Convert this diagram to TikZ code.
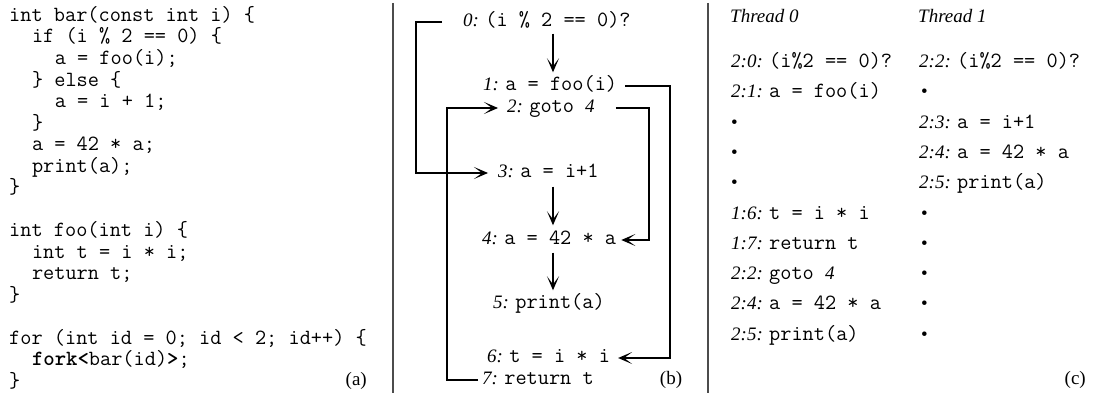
\documentclass[tikz,border=0pt]{standalone}
\usepackage{fontspec}
\setmainfont{Liberation Serif}
\usetikzlibrary{arrows.meta}
\newcommand\lab[1]{\textit{#1}}
\newcommand\cd[1]{{\fontsize{21.7}{21.5}\selectfont\ttfamily #1}}
\tikzset{
  txt/.style={anchor=west, inner sep=0pt, text height=14pt, text depth=5pt},
  code/.style={txt, font=\fontsize{21.7}{21.5}\selectfont\ttfamily},
  arr/.style={-{Stealth[length=14pt,width=12pt,inset=8pt]}, line width=2.3pt},
  sepline/.style={line width=1.3pt, draw=black!70}
}
\begin{document}
\begin{tikzpicture}[x=1pt,y=-1pt, font=\fontsize{19}{21.5}\selectfont]
\useasboundingbox (0,0) rectangle (1094,396);
% ---------- (a) code ----------
\node[code] (c0)  at (9,17)      {int bar(const int i) \{};
\node[code] (c1)  at (31.8,38.5) {if (i \% 2 == 0) \{};
\node[code] (c2)  at (54.6,60)   {a = foo(i);};
\node[code] (c3)  at (31.8,81.5) {\} else \{};
\node[code] (c4)  at (54.6,103)  {a = i + 1;};
\node[code] (c5)  at (31.8,124.5){\}};
\node[code] (c6)  at (31.8,146)  {a = 42 * a;};
\node[code] (c7)  at (31.8,167.5){print(a);};
\node[code] (c8)  at (9,189)     {\}};
\node[code] (c10) at (9,232)     {int foo(int i) \{};
\node[code] (c11) at (31.8,253.5){int t = i * i;};
\node[code] (c12) at (31.8,275)  {return t;};
\node[code] (c13) at (9,296.5)   {\}};
\node[code] (c15) at (9,339.5)   {for (int id = 0; id < 2; id++) \{};
\node[code] (c16) at (31.8,361)  {\textbf{fork<}bar(id)\textbf{>};};
\node[code] (c17) at (9,382.5)   {\}};
\node[txt, anchor=east] (capa) at (367,381) {(a)};
% ---------- separators ----------
\coordinate (s1t) at (393,3);  \coordinate (s1b) at (393,393);
\coordinate (s2t) at (708,3);  \coordinate (s2b) at (708,393);
\draw[sepline] (s1t) -- (s1b);
\draw[sepline] (s2t) -- (s2b);
% ---------- (b) CFG ----------
\node[txt] (n0) at (463,22)  {\lab{0:} \cd{(i \% 2 == 0)?}};
\node[txt] (n1) at (483,86)  {\lab{1:} \cd{a = foo(i)}};
\node[txt] (n2) at (507,108) {\lab{2:} \cd{goto }\lab{4}};
\node[txt] (n3) at (498,173) {\lab{3:} \cd{a = i+1}};
\node[txt] (n4) at (482,240) {\lab{4:} \cd{a = 42 * a}};
\node[txt] (n5) at (493,304) {\lab{5:} \cd{print(a)}};
\node[txt] (n6) at (487,358) {\lab{6:} \cd{t = i * i}};
\node[txt] (n7) at (482,380) {\lab{7:} \cd{return t}};
\node[txt, anchor=center] (capb) at (671,380) {(b)};
\coordinate (cx) at (553,0);
\draw[arr] ([yshift=-2]n0.south -| cx) -- ([yshift=4]n1.north -| cx);
\draw[arr] ([yshift=-4]n3.south -| cx) -- ([yshift=5]n4.north -| cx);
\draw[arr] ([yshift=-3]n4.south -| cx) -- ([yshift=4]n5.north -| cx);
\draw[arr] ([xshift=-21]n0.west) -- ++(-26,0) |- ([xshift=-10]n3.west);
\draw[arr] ([xshift=8]n1.east) -- ++(45,0) |- ([xshift=8]n6.east);
\draw[arr] ([xshift=21]n2.east) -- ++(33,0) |- ([xshift=5]n4.east);
\draw[arr] ([xshift=-4]n7.west) -- ++(-31,0) |- ([xshift=-9]n2.west);
% ---------- (c) threads ----------
\node[txt] (h0) at (730,18) {\lab{Thread 0}};
\node[txt] (h1) at (918,18) {\lab{Thread 1}};
\node[txt] (a0) at (731,63)    {\lab{2:0:} \cd{(i\%2 == 0)?}};
\node[txt] (a1) at (731,93.3)  {\lab{2:1:} \cd{a = foo(i)}};
\node[txt] (a2) at (731,123.6) {•};
\node[txt] (a3) at (731,153.9) {•};
\node[txt] (a4) at (731,184.2) {•};
\node[txt] (a5) at (731,214.5) {\lab{1:6:} \cd{t = i * i}};
\node[txt] (a6) at (731,244.8) {\lab{1:7:} \cd{return t}};
\node[txt] (a7) at (731,275.1) {\lab{2:2:} \cd{goto }\lab{4}};
\node[txt] (a8) at (731,305.4) {\lab{2:4:} \cd{a = 42 * a}};
\node[txt] (a9) at (731,335.7) {\lab{2:5:} \cd{print(a)}};
\node[txt] (b0) at (919,63)    {\lab{2:2:} \cd{(i\%2 == 0)?}};
\node[txt] (b1) at (921,93.3)  {•};
\node[txt] (b2) at (919,123.6) {\lab{2:3:} \cd{a = i+1}};
\node[txt] (b3) at (919,153.9) {\lab{2:4:} \cd{a = 42 * a}};
\node[txt] (b4) at (919,184.2) {\lab{2:5:} \cd{print(a)}};
\node[txt] (b5) at (921,214.5) {•};
\node[txt] (b6) at (921,244.8) {•};
\node[txt] (b7) at (921,275.1) {•};
\node[txt] (b8) at (921,305.4) {•};
\node[txt] (b9) at (921,335.7) {•};
\node[txt, anchor=east] (capc) at (1086,380) {(c)};
\end{tikzpicture}
\end{document}
